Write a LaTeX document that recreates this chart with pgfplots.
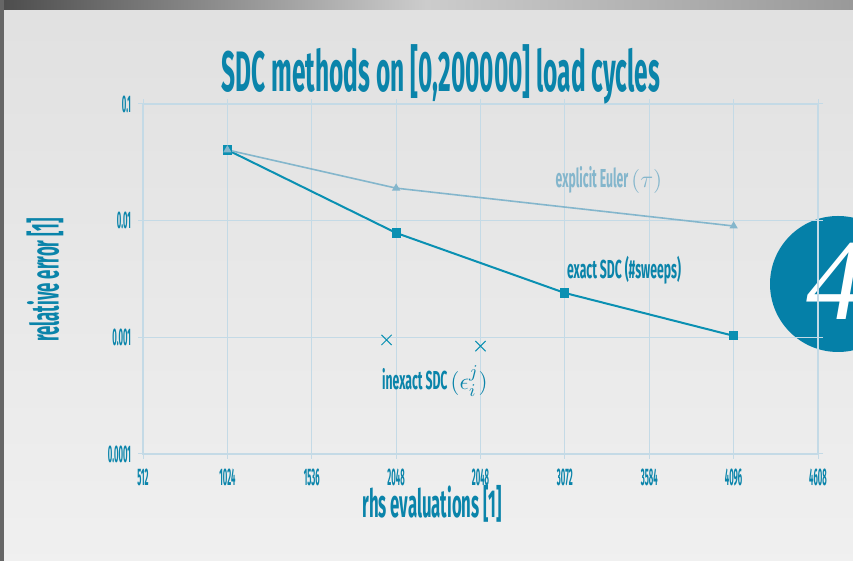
\documentclass[border=0pt]{standalone}
\usepackage{pgfplots}
\pgfplotsset{compat=1.18}
\usepackage{fontspec}
\newfontfamily\cond{Fira Sans}[FakeStretch=0.43]
\newfontfamily\conda{Fira Sans}[FakeStretch=0.47]
\newfontfamily\condt{Fira Sans}[FakeStretch=0.32]
\newfontfamily\serifit{Liberation Serif}
\definecolor{tealA}{HTML}{0A84AA}
\definecolor{lineA}{HTML}{0A90B2}
\definecolor{lineB}{HTML}{84B6CC}
\definecolor{gridc}{HTML}{C4DAE6}
\definecolor{circc}{HTML}{0580A8}
\begin{document}
\begin{tikzpicture}[x=0.5pt,y=0.5pt]
\useasboundingbox (0,0) rectangle (853,561);
\clip (0,0) rectangle (853,561);
\shade[top color=black!12, bottom color=black!6] (0,0) rectangle (853,561);
\shade[left color=black!70, right color=black!40, middle color=black!20] (0,551) rectangle (853,561);
\fill[black!60] (0,0) rectangle (4,561);
\fill[circc] (838,277) circle (68);
\node[white, font=\serifit\itshape\fontsize{58}{58}\selectfont, anchor=west, inner sep=0pt] at (806,280) {4};
\begin{axis}[
  at={(71.5pt,53.5pt)}, anchor=south west, scale only axis,
  width=337.5pt, height=175pt,
  xmin=512, xmax=4608, ymode=log, ymin=1e-4, ymax=0.1,
  xtick={512,1024,1536,2048,2560,3072,3584,4096,4608},
  xticklabels={512,1024,1536,2048,2048,3072,3584,4096,4608},
  ytick={1e-4,1e-3,1e-2,1e-1},
  yticklabels={0.0001,0.001,0.01,0.1},
  yminorticks=false,
  grid=major, grid style={gridc, line width=0.5pt},
  axis line style={gridc, line width=0.7pt},
  tick style={gridc, line width=0.5pt}, tick align=outside, major tick length=2.5pt,
  tick label style={font=\condt\bfseries\fontsize{12}{12}\selectfont, text=tealA},
  xticklabel style={yshift=-1.5pt},
  clip=false,
]
\addplot[lineA, line width=1pt, mark=square*, mark size=1.8pt] coordinates {
 (1024,0.0404) (2048,0.00785) (3072,0.0024) (4096,0.00103)};
\addplot[lineB, line width=0.8pt, mark=triangle*, mark size=1.6pt] coordinates {
 (1024,0.0404) (2048,0.019) (4096,0.009)};
\addplot[only marks, lineA, mark=x, mark size=3.6pt, line width=0.5pt] coordinates {
 (1990,0.00095) (2560,0.00084)};
\node[text=lineB, font=\conda\bfseries\fontsize{13}{13}\selectfont] at (axis cs:3340,0.0223) {explicit Euler $(\tau)$};
\node[text=tealA, font=\conda\bfseries\fontsize{13}{13}\selectfont] at (axis cs:3431,0.00379) {exact SDC (\#sweeps)};
\node[text=tealA, font=\conda\bfseries\fontsize{13}{13}\selectfont] at (axis cs:2284,0.000423) {inexact SDC $(\epsilon_i^j)$};
\end{axis}
\node[text=tealA, font=\cond\bfseries\fontsize{28.5}{28.5}\selectfont] at (441,487) {SDC methods on [0,200000] load cycles};
\node[text=tealA, font=\cond\bfseries\fontsize{19.5}{19.5}\selectfont] at (432,57) {rhs evaluations [1]};
\node[text=tealA, font=\cond\bfseries\fontsize{19.5}{19.5}\selectfont, rotate=90] at (45,281) {relative error [1]};
\end{tikzpicture}
\end{document}
